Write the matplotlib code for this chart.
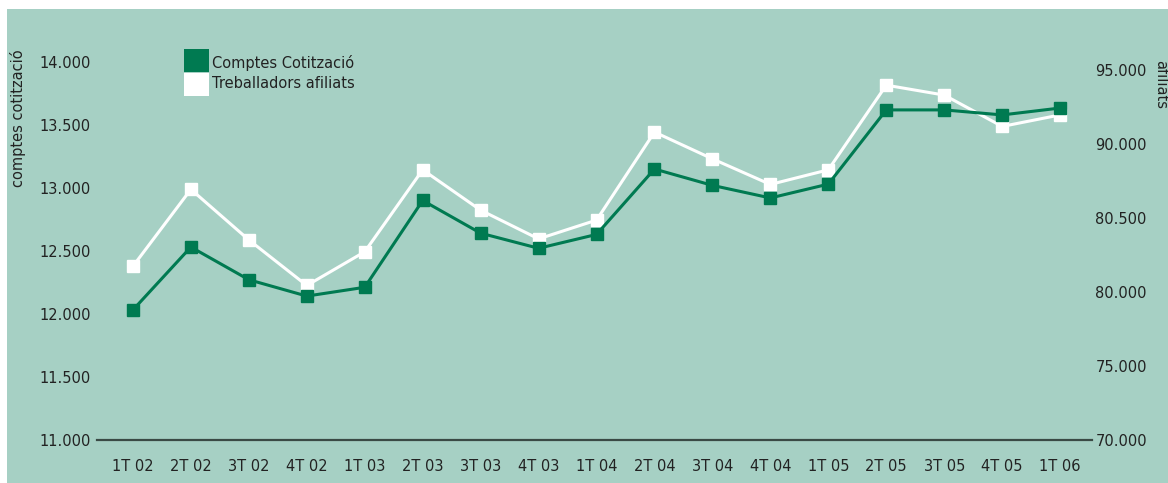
import matplotlib
matplotlib.use("Agg")
import matplotlib.pyplot as plt
from matplotlib.patches import Rectangle

categories = ["1T 02", "2T 02", "3T 02", "4T 02", "1T 03", "2T 03", "3T 03", "4T 03",
              "1T 04", "2T 04", "3T 04", "4T 04", "1T 05", "2T 05", "3T 05", "4T 05", "1T 06"]
comptes = [12030, 12530, 12270, 12140, 12210, 12900, 12640, 12520,
           12630, 13150, 13020, 12920, 13030, 13620, 13620, 13580, 13635]
afiliats = [81710, 86910, 83490, 80410, 82690, 88230, 85500, 83560,
            84830, 90780, 88970, 87240, 88230, 93950, 93280, 91160, 91940]
left_ticks = [11000, 11500, 12000, 12500, 13000, 13500, 14000]
left_labels = ["11.000", "11.500", "12.000", "12.500", "13.000", "13.500", "14.000"]
right_ticks = [70000, 75000, 80000, 85000, 90000, 95000]
right_labels = ["70.000", "75.000", "80.000", "80.500", "90.000", "95.000"]
series_names = ["Comptes Cotització", "Treballadors afiliats"]

W, H = 1168, 483
BG = "#a6d0c4"
GREEN = "#007a51"
TXT = "#222222"
FS = 10.5
plt.rcParams["font.family"] = ["DejaVu Sans"]

fig = plt.figure(figsize=(W / 100, H / 100), dpi=100, facecolor="white")
fig.patches.append(Rectangle((7 / W, 0), 1 - 7 / W, (H - 9) / H, transform=fig.transFigure,
                             facecolor=BG, edgecolor="none", zorder=-10))

ax_l, ax_r = 97, 1092
ax_b, ax_t = 439.5, 30
ax = fig.add_axes([ax_l / W, (H - ax_b) / H, (ax_r - ax_l) / W, (ax_b - ax_t) / H])
ax.patch.set_alpha(0)
ax2 = ax.twinx()
ax2.patch.set_alpha(0)
ax2.set_zorder(1)
ax.set_zorder(2)

x = list(range(len(categories)))
ax.set_xlim(-0.62, len(categories) - 1 + 0.55)
ax.set_ylim(11000, 11000 + (ax_b - ax_t) / 125.8 * 1000)
ax2.set_ylim(70000 + (443 - ax_b) * 67.02, 70000 + (443 - ax_t) * 67.02)

ax2.plot(x, afiliats, color="white", lw=2.2, marker="s", ms=8, mec="white", mfc="white", zorder=3)
ax.plot(x, comptes, color=GREEN, lw=2.2, marker="s", ms=8, mec=GREEN, mfc=GREEN, zorder=4)

for a in (ax, ax2):
    for s in a.spines.values():
        s.set_visible(False)
ax.spines["bottom"].set_visible(True)
ax.spines["bottom"].set_color("#3a4a45")
ax.spines["bottom"].set_linewidth(1.6)

ax.set_xticks(x)
ax.set_xticklabels(categories, fontsize=FS, color=TXT)
ax.tick_params(axis="x", length=0, pad=14)
ax.set_yticks(left_ticks)
ax.set_yticklabels(left_labels, fontsize=FS, color=TXT)
ax.tick_params(axis="y", length=0, pad=4.5)
ax2.set_yticks(right_ticks)
ax2.set_yticklabels(right_labels, fontsize=FS, color=TXT)
ax2.tick_params(axis="y", length=0, pad=2.5)

fig.text(18 / W, 1 - 118 / H, "comptes cotització", rotation=90, fontsize=FS, color=TXT,
         ha="center", va="center")
fig.text(1161 / W, 1 - 84 / H, "afiliats", rotation=-90, fontsize=FS, color=TXT,
         ha="center", va="center")

# legend
fig.patches.append(Rectangle((184 / W, 1 - 72 / H), 25 / W, 23 / H, transform=fig.transFigure,
                             facecolor=GREEN, edgecolor="none"))
fig.patches.append(Rectangle((184 / W, 1 - 96 / H), 25 / W, 23 / H, transform=fig.transFigure,
                             facecolor="white", edgecolor="none"))
fig.text(212 / W, 1 - 63 / H, series_names[0], fontsize=FS, color=TXT, ha="left", va="center")
fig.text(212 / W, 1 - 84 / H, series_names[1], fontsize=FS, color=TXT, ha="left", va="center")

fig.savefig("out.png", dpi=100, facecolor="white")
